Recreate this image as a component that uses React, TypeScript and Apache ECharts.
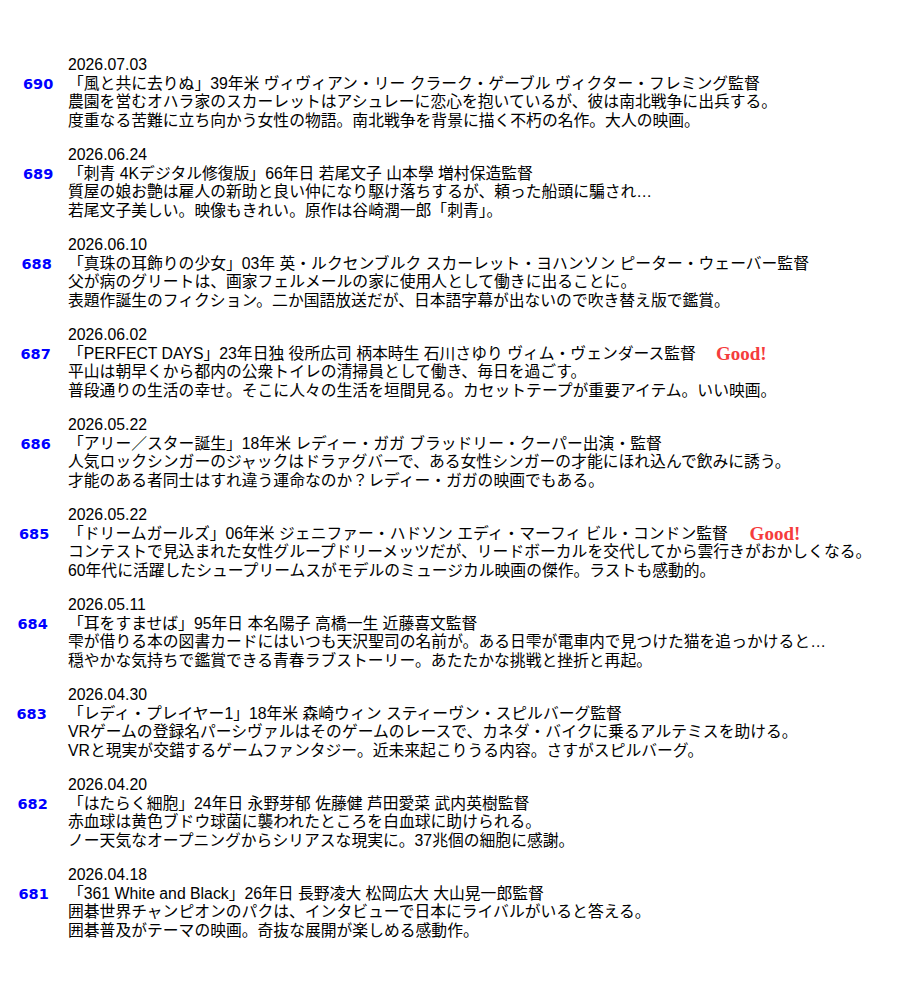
import React, { useEffect, useRef } from "react";
import * as echarts from "echarts";

// ---- data ----
const ids = [690, 689, 688, 687, 686, 685, 684, 683, 682, 681];
const dates = [
  "2026.07.03", "2026.06.24", "2026.06.10", "2026.06.02", "2026.05.22",
  "2026.05.22", "2026.05.11", "2026.04.30", "2026.04.20", "2026.04.18",
];
const titles = [
  "「風と共に去りぬ」39年米 ヴィヴィアン・リー クラーク・ゲーブル ヴィクター・フレミング監督",
  "「刺青 4Kデジタル修復版」66年日 若尾文子 山本學 増村保造監督",
  "「真珠の耳飾りの少女」03年 英・ルクセンブルク スカーレット・ヨハンソン ピーター・ウェーバー監督",
  "「PERFECT DAYS」23年日独 役所広司 柄本時生 石川さゆり ヴィム・ヴェンダース監督",
  "「アリー／スター誕生」18年米 レディー・ガガ ブラッドリー・クーパー出演・監督",
  "「ドリームガールズ」06年米 ジェニファー・ハドソン エディ・マーフィ ビル・コンドン監督",
  "「耳をすませば」95年日 本名陽子 高橋一生 近藤喜文監督",
  "「レディ・プレイヤー1」18年米 森崎ウィン スティーヴン・スピルバーグ監督",
  "「はたらく細胞」24年日 永野芽郁 佐藤健 芦田愛菜 武内英樹監督",
  "「361 White and Black」26年日 長野凌大 松岡広大 大山晃一郎監督",
];
const plots = [
  "農園を営むオハラ家のスカーレットはアシュレーに恋心を抱いているが、彼は南北戦争に出兵する。",
  "質屋の娘お艶は雇人の新助と良い仲になり駆け落ちするが、頼った船頭に騙され…",
  "父が病のグリートは、画家フェルメールの家に使用人として働きに出ることに。",
  "平山は朝早くから都内の公衆トイレの清掃員として働き、毎日を過ごす。",
  "人気ロックシンガーのジャックはドラァグバーで、ある女性シンガーの才能にほれ込んで飲みに誘う。",
  "コンテストで見込まれた女性グループドリーメッツだが、リードボーカルを交代してから雲行きがおかしくなる。",
  "雫が借りる本の図書カードにはいつも天沢聖司の名前が。ある日雫が電車内で見つけた猫を追っかけると…",
  "VRゲームの登録名パーシヴァルはそのゲームのレースで、カネダ・バイクに乗るアルテミスを助ける。",
  "赤血球は黄色ブドウ球菌に襲われたところを白血球に助けられる。",
  "囲碁世界チャンピオンのパクは、インタビューで日本にライバルがいると答える。",
];
const comments = [
  "度重なる苦難に立ち向かう女性の物語。南北戦争を背景に描く不朽の名作。大人の映画。",
  "若尾文子美しい。映像もきれい。原作は谷崎潤一郎「刺青」。",
  "表題作誕生のフィクション。二か国語放送だが、日本語字幕が出ないので吹き替え版で鑑賞。",
  "普段通りの生活の幸せ。そこに人々の生活を垣間見る。カセットテープが重要アイテム。いい映画。",
  "才能のある者同士はすれ違う運命なのか？レディー・ガガの映画でもある。",
  "60年代に活躍したシュープリームスがモデルのミュージカル映画の傑作。ラストも感動的。",
  "穏やかな気持ちで鑑賞できる青春ラブストーリー。あたたかな挑戦と挫折と再起。",
  "VRと現実が交錯するゲームファンタジー。近未来起こりうる内容。さすがスピルバーグ。",
  "ノー天気なオープニングからシリアスな現実に。37兆個の細胞に感謝。",
  "囲碁普及がテーマの映画。奇抜な展開が楽しめる感動作。",
];
const good = [false, false, false, true, false, true, false, false, false, false];
const goodLabel = "Good!";

// ---- layout (kept separate from data) ----
const TOP = 64;
const STEP = 90;
const TEXT_LEFT = 68;
const LINE_OFFSETS = [0, 19, 37.5, 56];
const numberLeft = [23, 23, 21.5, 20.5, 20.5, 19, 17.5, 16.5, 17.5, 18.5];
const JP_FONT = "'Liberation Sans', 'Noto Sans CJK JP', sans-serif";
const JP_SIZE = 15.8;

export default function App() {
  const ref = useRef<HTMLDivElement>(null);

  useEffect(() => {
    if (!ref.current) return;
    const chart = echarts.init(ref.current, undefined, { renderer: "svg" });

    const elements: any[] = [];
    ids.forEach((id, i) => {
      const base = TOP + i * STEP;
      const line = (k: number) => base + LINE_OFFSETS[k];
      const jpStyle = (text: string, y: number) => ({
        type: "text",
        silent: true,
        style: {
          x: TEXT_LEFT,
          y,
          text,
          fill: "#000",
          fontFamily: JP_FONT,
          fontSize: JP_SIZE,
          fontWeight: "normal",
          verticalAlign: "middle",
          align: "left",
        },
      });
      elements.push(jpStyle(dates[i], line(0)));
      const t = jpStyle(
        good[i] ? `${titles[i]}{good|${goodLabel}}` : titles[i],
        line(1)
      );
      if (good[i]) {
        (t.style as any).rich = {
          good: {
            fontFamily: "'Liberation Serif', 'DejaVu Serif', serif",
            fontWeight: "bold",
            fontSize: 19,
            fill: "#f53c3c",
            padding: [0, 0, 0, 19],
            verticalAlign: "middle",
          },
        };
      }
      elements.push(t);
      elements.push(jpStyle(plots[i], line(2)));
      elements.push(jpStyle(comments[i], line(3)));
      elements.push({
        type: "text",
        silent: true,
        style: {
          x: numberLeft[i],
          y: line(1) + 1,
          text: String(id),
          fill: "#0000ff",
          fontFamily: "'DejaVu Sans', Verdana, sans-serif",
          fontWeight: "bold",
          fontSize: 14.5,
          verticalAlign: "middle",
          align: "left",
        },
      });
    });

    chart.setOption({
      animation: false,
      backgroundColor: "#ffffff",
      graphic: { elements },
    });

    return () => chart.dispose();
  }, []);

  return (
    <div
      ref={ref}
      style={{ position: "absolute", left: 0, top: 0, width: 900, height: 1000 }}
    />
  );
}
